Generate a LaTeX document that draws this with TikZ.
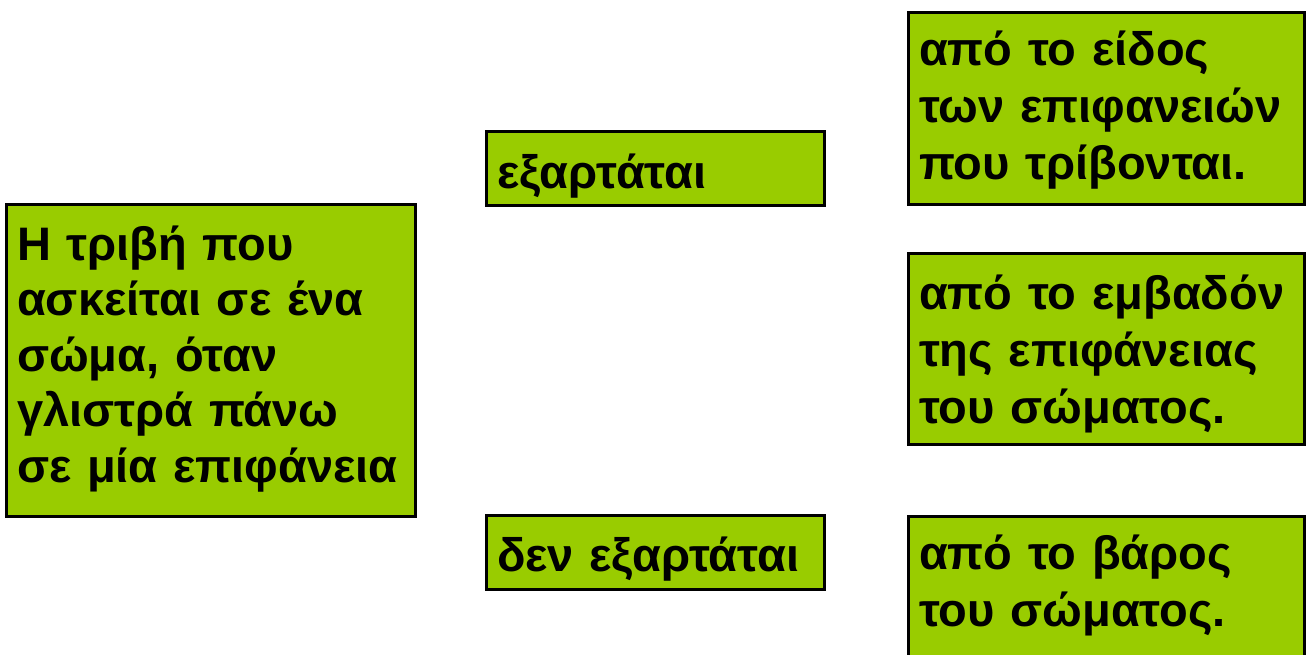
\documentclass[tikz,border=0pt]{standalone}
\usepackage{fontspec}
\setmainfont{Liberation Sans}
\definecolor{boxgreen}{HTML}{99CC00}
\begin{document}
\begin{tikzpicture}[x=1pt,y=-1pt,
  gbox/.style={draw=black, line width=3pt, fill=boxgreen, align=left,
    inner xsep=10.5pt, inner ysep=0pt, outer sep=0pt, anchor=north west},
  txt/.style={font=\bfseries\fontsize{47}{#1}\selectfont},
  lbox/.style={gbox, minimum width=409pt, text width=388pt},
  mbox/.style={gbox, minimum width=338pt, text width=317pt},
  rbox/.style={gbox, minimum width=396pt, text width=375pt}]
\useasboundingbox (0,0) rectangle (1307,654);
\node[lbox, txt=55.5, text height=55.5pt, text depth=256.5pt] (L) at (6.5,204.5)
  {Η~τριβή~που\\ασκείται~σε~ένα\\σώμα,~όταν\\γλιστρά~πάνω\\σε~μία~επιφάνεια};
\node[mbox, txt=55, text height=56.5pt, text depth=17.5pt] (E1) at (486.5,131.5)
  {εξαρτάται};
\node[mbox, txt=55, text height=55.5pt, text depth=18.5pt] (E2) at (486.5,515.5)
  {δεν~εξαρτάται};
\node[rbox, txt=57, text height=52.5pt, text depth=139.5pt] (R1) at (908.5,12.5)
  {από~το~είδος\\των~επιφανειών\\που~τρίβονται.};
\node[rbox, txt=57, text height=55.5pt, text depth=135.5pt] (R2) at (908.5,253.5)
  {από~το~εμβαδόν\\της~επιφάνειας\\του~σώματος.};
\node[rbox, txt=57, text height=52.5pt, text depth=147.5pt] (R3) at (908.5,516.5)
  {από~το~βάρος\\του~σώματος.};
\end{tikzpicture}
\end{document}
